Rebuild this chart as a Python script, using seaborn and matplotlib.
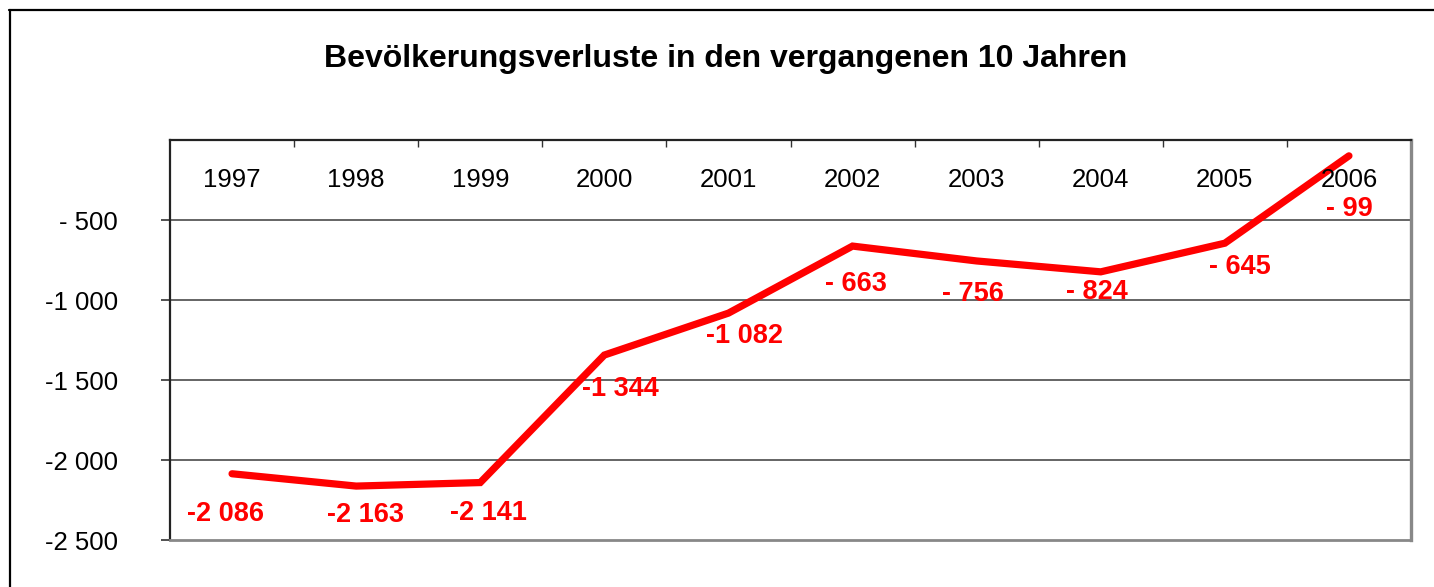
import matplotlib
matplotlib.use("Agg")
import matplotlib.pyplot as plt
import matplotlib.transforms as mtransforms
from matplotlib.lines import Line2D
import pandas as pd
import seaborn as sns

# data
years = ["1997", "1998", "1999", "2000", "2001", "2002", "2003", "2004", "2005", "2006"]
losses = [-2086, -2163, -2141, -1344, -1082, -663, -756, -824, -645, -99]
y_ticks = [-2500, -2000, -1500, -1000, -500]
title = "Bevölkerungsverluste in den vergangenen 10 Jahren"

# label nudges (pixels) to mimic the hand-placed labels
label_offsets = [(-7, -40), (9, -29), (8, -30), (16, -34), (16, -23),
                 (3, -38), (-4, -33), (-4, -20), (15, -24), (0, -53)]


def fmt(v):
    s = f"{abs(v):,}".replace(",", " ")
    return ("- " if abs(v) < 1000 else "-") + s


sns.set_theme(style="white")
plt.rcParams["font.family"] = ["Liberation Sans", "DejaVu Sans"]
plt.rcParams["text.color"] = "black"

df = pd.DataFrame({"year": years, "loss": losses})

fig = plt.figure(figsize=(14.34, 5.87), dpi=100)
ax = fig.add_axes([170 / 1434, 1 - 540 / 587, 1241 / 1434, 400 / 587])

sns.lineplot(data=df, x="year", y="loss", color="#ff0000", linewidth=5.2,
             ax=ax, solid_capstyle="round", solid_joinstyle="miter")

ax.set_xlim(-0.5, len(years) - 0.5)
ax.set_ylim(-2500, 0)
ax.set_xlabel("")
ax.set_ylabel("")

# horizontal gridlines
for t in y_ticks[1:]:
    ax.axhline(t, color="#3a3a3a", linewidth=1.1, zorder=0)

# y axis
ax.set_yticks(y_ticks)
ax.set_yticklabels([fmt(t) for t in y_ticks], fontsize=18.5, color="black")
ax.tick_params(axis="y", direction="out", length=6.5, width=1.2, color="#333333",
               pad=31, left=True)

# x axis at the top (value 0), ticks between categories pointing inward
ax.xaxis.tick_top()
ax.set_xticks([i + 0.5 for i in range(len(years) - 1)])
ax.set_xticklabels([])
ax.tick_params(axis="x", direction="in", length=5, width=1.0, color="#333333", top=True)

trans = mtransforms.blended_transform_factory(ax.transData, ax.transAxes)
for i, yr in enumerate(years):
    ax.text(i, 0.9, yr, transform=trans, ha="center", va="center", fontsize=18.5, color="black")

# data labels
for i, (v, (dx, dy)) in enumerate(zip(losses, label_offsets)):
    ax.annotate(fmt(v), (i, v), xytext=(dx, dy), textcoords="offset pixels",
                ha="center", va="center", fontsize=19.5, fontweight="bold", color="#ff0000")

for side in ["top", "left"]:
    ax.spines[side].set_color("#222222")
    ax.spines[side].set_linewidth(1.6)
ax.spines["right"].set_color("#888888")
ax.spines["right"].set_linewidth(2.4)
ax.spines["bottom"].set_color("#888888")
ax.spines["bottom"].set_linewidth(2.0)

fig.text(726 / 1434, 1 - 59 / 587, title, ha="center", va="center", fontsize=23,
         fontweight="bold", color="black")

# outer chart frame (cropped at right and bottom)
W, H = 1434, 587
fig.add_artist(Line2D([9 / W, 1], [1 - 9.5 / H, 1 - 9.5 / H], transform=fig.transFigure,
                      color="black", linewidth=1.6))
fig.add_artist(Line2D([9.5 / W, 9.5 / W], [0, 1 - 9.5 / H], transform=fig.transFigure,
                      color="black", linewidth=1.6))

fig.savefig("out.png", dpi=100)
